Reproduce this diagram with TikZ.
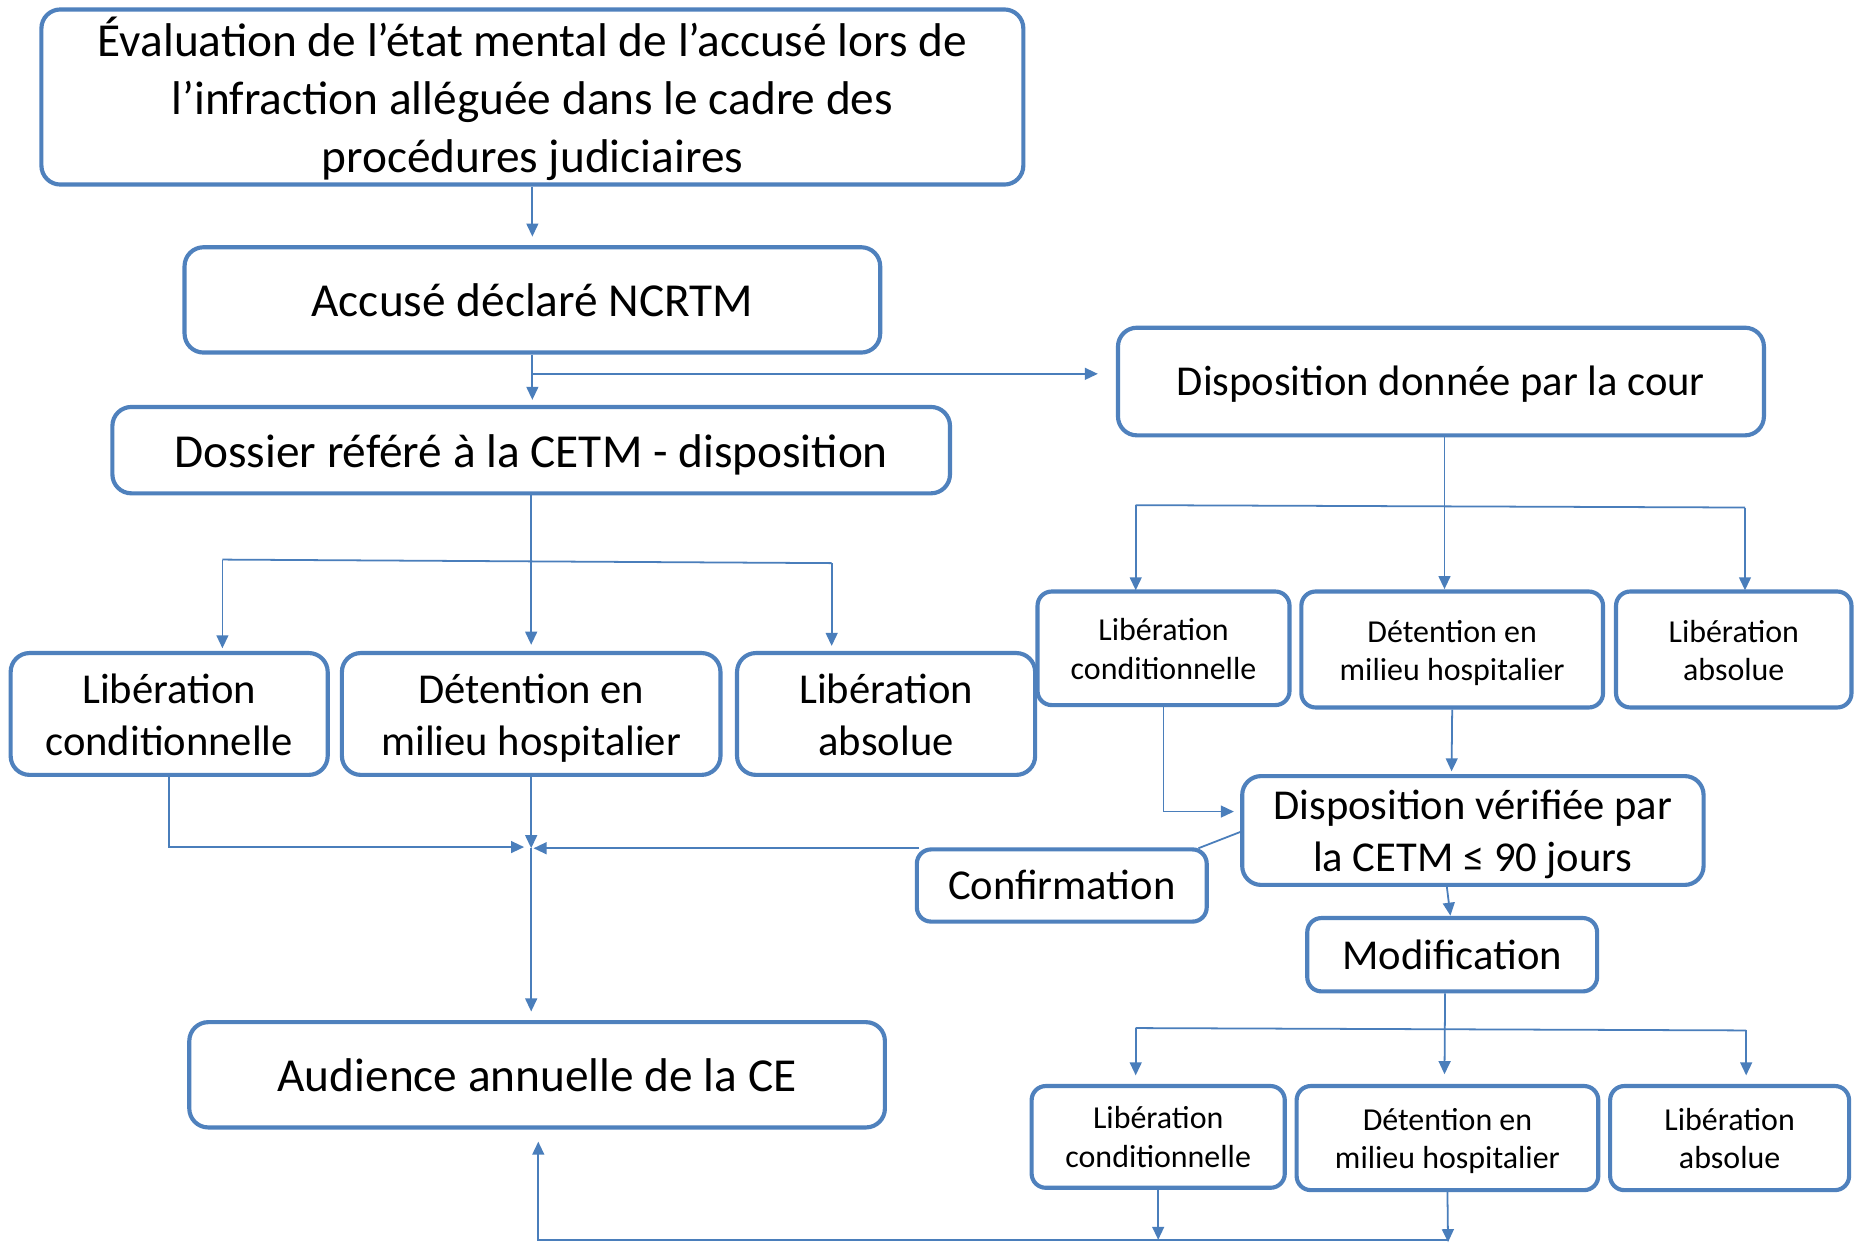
\documentclass[tikz,border=0pt]{standalone}
\usepackage{fontspec}
\setmainfont{Carlito}
\usetikzlibrary{arrows.meta}
\definecolor{bbor}{RGB}{79,129,189}
\definecolor{bline}{RGB}{74,126,187}
\newcommand\tx[2][4.5pt]{\raisebox{-#1}[\height][\depth]{\begin{tabular}{@{}c@{}}#2\end{tabular}}}
\begin{document}
\begin{tikzpicture}[x=1pt,y=-1pt,
  box/.style={draw=bbor, line width=3.5pt, rounded corners=16pt, fill=white, align=center, inner sep=0pt, text=black},
  big/.style={box, font=\fontsize{40}{49}\selectfont},
  mid/.style={box, font=\fontsize{36}{44}\selectfont},
  small/.style={box, font=\fontsize{27}{32.5}\selectfont, rounded corners=12pt},
  conn/.style={draw=bline, line width=1.5pt},
  arr/.style={conn, -{Triangle[length=11pt,width=10pt]}},
]
\useasboundingbox[fill=white] (0,0) rectangle (1568,1051.5);

% boxes
\node[big, minimum width=830pt, minimum height=148pt] (A) at (450,82)
  {\tx[5pt]{Évaluation de l’état mental de l’accusé lors de\\ l’infraction alléguée dans le cadre des\\ procédures judiciaires}};
\node[big, minimum width=588pt, minimum height=89pt] (B) at (450,253.5) {\tx[4pt]{Accusé déclaré NCRTM}};
\node[big, minimum width=708pt, minimum height=73pt] (C) at (449,380.5) {\tx[5pt]{Dossier référé à la CETM - disposition}};
\node[mid, minimum width=546pt, minimum height=91pt] (D) at (1218,322.5) {\tx[3pt]{Disposition donnée par la cour}};

\node[mid, minimum width=268pt, minimum height=103pt] (L1) at (143,603.5) {\tx{Libération\\ conditionnelle}};
\node[mid, minimum width=320pt, minimum height=103pt] (D1) at (449,603.5) {\tx{Détention en\\ milieu hospitalier}};
\node[mid, minimum width=252pt, minimum height=103pt] (A1) at (749,603.5) {\tx{Libération\\ absolue}};

\node[small, minimum width=213pt, minimum height=96pt] (L2) at (983.5,548) {\tx[3.5pt]{Libération\\ conditionnelle}};
\node[small, minimum width=255pt, minimum height=98pt] (D2) at (1227.5,549) {\tx[3.5pt]{Détention en\\ milieu hospitalier}};
\node[small, minimum width=199pt, minimum height=98pt] (A2) at (1465.5,549) {\tx[3.5pt]{Libération\\ absolue}};

\node[mid, minimum width=390pt, minimum height=92pt] (V) at (1245,702) {\tx[4pt]{Disposition vérifiée par\\ la CETM ≤ 90 jours}};
\node[mid, minimum width=245pt, minimum height=61pt, rounded corners=12pt] (Cf) at (897.5,748.5) {\tx[3pt]{Confirmation}};
\node[mid, minimum width=245pt, minimum height=62pt, rounded corners=12pt] (M) at (1227.5,807) {\tx[4pt]{Modification}};

\node[small, minimum width=214pt, minimum height=86pt] (L3) at (979,961) {\tx[3pt]{Libération\\ conditionnelle}};
\node[small, minimum width=255pt, minimum height=88pt] (D3) at (1223.5,962) {\tx[3pt]{Détention en\\ milieu hospitalier}};
\node[small, minimum width=202pt, minimum height=88pt] (A3) at (1462,962) {\tx[3pt]{Libération\\ absolue}};

\node[big, minimum width=588pt, minimum height=89pt] (E) at (454,908.5) {\tx[4pt]{Audience annuelle de la CE}};

% junction coordinates
\coordinate (tB) at (450,200);
\coordinate (jB) at (450,316);
\coordinate (tC) at (450,338);
\coordinate (tD) at (928,316);
\coordinate (tD1) at (449,545);
\coordinate (hL) at (188,473);
\coordinate (hR) at (703,476);
\coordinate (tL1) at (188,548);
\coordinate (tA1) at (703,546);
\coordinate (tD2) at (1221,498);
\coordinate (rL) at (960,427);
\coordinate (rR) at (1475,429);
\coordinate (tL2) at (960,499);
\coordinate (tA2) at (1475,499);
\coordinate (tV) at (1227,652);
\coordinate (tVl) at (1043,686);
\coordinate (vW) at (1049,703);
\coordinate (cfR) at (1013,717);
\coordinate (cfL) at (777,717);
\coordinate (stp) at (745,717);
\coordinate (jm) at (449,717);
\coordinate (tJr) at (451,717);
\coordinate (tJl) at (443,716);
\coordinate (tE) at (449,855);
\coordinate (tM) at (1226,774);
\coordinate (tD3) at (1221,908);
\coordinate (mL) at (960,869);
\coordinate (mR) at (1476,871);
\coordinate (tL3) at (960,909);
\coordinate (tA3) at (1476,909);
\coordinate (bL3) at (979,1048);
\coordinate (bD3) at (1224,1050);
\coordinate (bR) at (1225,1048);
\coordinate (bL) at (455,1048);
\coordinate (tEb) at (455,965);

% connectors
\draw[arr] (A.south) -- (tB);
\draw[arr] (B.south) -- (tC);
\draw[arr] (jB) -- (tD);
\draw[arr] (C.south) -- (tD1);
\draw[conn] (hL) -- (hR);
\draw[arr] (hL) -- (tL1);
\draw[arr] (hR) -- (tA1);

\draw[arr] ([xshift=3pt]D.south) -- (tD2);
\draw[conn] (rL) -- (rR);
\draw[arr] (rL) -- (tL2);
\draw[arr] (rR) -- (tA2);

\draw[arr] (D2.south) -- (tV);
\draw[arr] (L2.south) |- (tVl);
\draw[conn] (vW) -- (cfR);
\draw[arr] (cfL) -- (stp) -- (tJr);
\draw[arr] (L1.south) |- (tJl);
\draw[arr] (D1.south) -- (jm);
\draw[arr] (jm) -- (tE);

\draw[arr] ([xshift=-22pt]V.south) -- (tM);
\draw[arr] ([xshift=-6pt]M.south) -- (tD3);
\draw[conn] (mL) -- (mR);
\draw[arr] (mL) -- (tL3);
\draw[arr] (mR) -- (tA3);

\draw[arr] (L3.south) -- (bL3);
\draw[arr] (D3.south) -- (bD3);
\draw[arr] (bR) -- (bL) -- (tEb);
\end{tikzpicture}
\end{document}
